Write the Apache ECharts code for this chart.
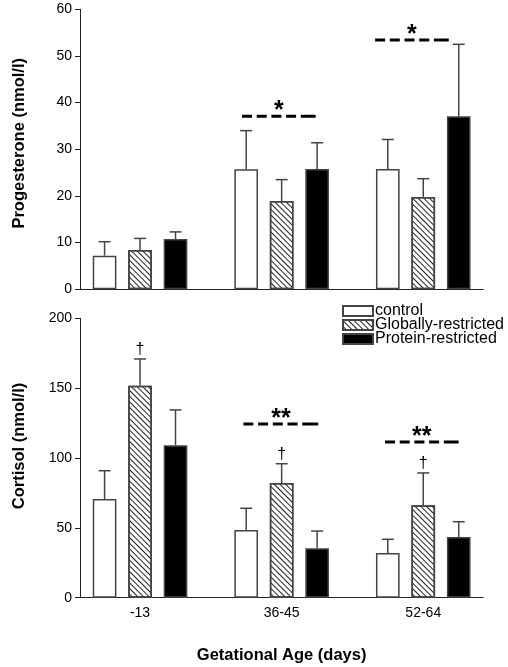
<!DOCTYPE html>
<html><head><meta charset="utf-8">
<script src="https://cdn.jsdelivr.net/npm/echarts@6.0.0/dist/echarts.min.js"></script>
<style>html,body{margin:0;padding:0;background:#fff}#c{width:508px;height:667px}</style>
</head><body><div id="c"></div>
<script>
// ---- data ----
const categories = ['-13', '36-45', '52-64'];
const seriesNames = ['control', 'Globally-restricted', 'Protein-restricted'];
const progTicks = [0, 10, 20, 30, 40, 50, 60];
const cortTicks = [0, 50, 100, 150, 200];

// Progesterone (nmol/l): mean and SEM
const progControl = [7.2, 25.7, 25.8];
const progGlobal = [8.4, 18.9, 19.8];
const progProtein = [10.8, 25.8, 37.1];
const progControlSem = [3.0, 8.3, 6.3];
const progGlobalSem = [2.5, 4.6, 3.9];
const progProteinSem = [1.5, 5.6, 15.4];

// Cortisol (nmol/l): mean and SEM
const cortControl = [70.6, 48.5, 32.0];
const cortGlobal = [151.8, 82.1, 66.1];
const cortProtein = [109.1, 35.4, 43.4];
const cortControlSem = [20.3, 15.5, 9.8];
const cortGlobalSem = [19.1, 13.8, 23.2];
const cortProteinSem = [25.3, 12.3, 11.0];

// significance annotations: [from x, to x, level]
const progSig = [[0.72, 1.24, 37.1], [1.66, 2.18, 53.4]];
const progSigLabel = ['*', '*'];
const cortSig = [[0.73, 1.26, 124.3], [1.73, 2.25, 111.5]];
const cortSigLabel = ['**', '**'];
const cortGlobalDagger = ['\u2020', '\u2020', '\u2020'];

// ---- styling / layout ----
const FONT = 'Liberation Sans, Arial, sans-serif';
const BAR_W = 0.167;          // fraction of group spacing
const OFFSET = BAR_W * 1.5;   // bar width + 50% gap
const EDGE = '#444';
const hatch = { symbol: 'rect', symbolSize: 1, color: '#222', dashArrayX: [1, 0], dashArrayY: [1, 2.6], rotation: Math.PI / 4 };
const styles = [
  { color: '#fff', borderColor: EDGE, borderWidth: 1.5 },
  { color: '#fff', borderColor: EDGE, borderWidth: 1.5, decal: hatch },
  { color: '#000', borderColor: EDGE, borderWidth: 1.5 }
];

function errRender(offset, marks) {
  return function (params, api) {
    const x = api.value(0) + offset;
    const base = api.coord([x, api.value(1)]);
    const hi = api.coord([x, api.value(1) + api.value(2)]);
    const ls = { stroke: EDGE, lineWidth: 1.5 };
    const ch = [
      { type: 'line', shape: { x1: base[0], y1: base[1], x2: hi[0], y2: hi[1] }, style: ls },
      { type: 'line', shape: { x1: hi[0] - 6, y1: hi[1], x2: hi[0] + 6, y2: hi[1] }, style: ls }
    ];
    if (marks && marks[params.dataIndex]) {
      ch.push({ type: 'text', x: hi[0], y: hi[1] - 9,
        style: { text: marks[params.dataIndex], fill: '#000', font: '16px ' + FONT, align: 'center', verticalAlign: 'middle' } });
    }
    return { type: 'group', children: ch };
  };
}
function sigRender(labels) {
  return function (params, api) {
    const a = api.coord([api.value(0), api.value(2)]);
    const b = api.coord([api.value(1), api.value(2)]);
    return { type: 'group', children: [
      { type: 'line', shape: { x1: a[0], y1: a[1], x2: b[0], y2: b[1] },
        style: { stroke: '#000', lineWidth: 3, lineDash: [10, 4.7, 10, 4.7, 10, 4.7, 10, 4.7, 16, 10] } },
      { type: 'text', x: (a[0] + b[0]) / 2, y: a[1] - 5,
        style: { text: labels[params.dataIndex], fill: '#000', font: 'bold 25px ' + FONT, align: 'center', verticalAlign: 'middle' } }
    ] };
  };
}

const panels = [
  { means: [progControl, progGlobal, progProtein], sems: [progControlSem, progGlobalSem, progProteinSem], sig: progSig, sigLabel: progSigLabel, marks: [null, null, null] },
  { means: [cortControl, cortGlobal, cortProtein], sems: [cortControlSem, cortGlobalSem, cortProteinSem], sig: cortSig, sigLabel: cortSigLabel, marks: [null, cortGlobalDagger, null] }
];

const series = [];
panels.forEach((p, g) => {
  p.means.forEach((vals, k) => {
    series.push({ type: 'bar', name: seriesNames[k], xAxisIndex: g, yAxisIndex: g,
      barWidth: (BAR_W * 100) + '%', barGap: '50%', itemStyle: styles[k],
      emphasis: { disabled: true }, silent: true,
      data: vals.map((v, i) => [i, v]) });
  });
  p.means.forEach((vals, k) => {
    series.push({ type: 'custom', xAxisIndex: g, yAxisIndex: g, silent: true, z: 3,
      renderItem: errRender((k - 1) * OFFSET, p.marks[k]),
      encode: { x: 0, y: 1 },
      data: vals.map((v, i) => [i, v, p.sems[k][i]]) });
  });
  series.push({ type: 'custom', xAxisIndex: g, yAxisIndex: g, silent: true, z: 4,
    renderItem: sigRender(p.sigLabel), encode: { x: 0, y: 2 }, data: p.sig });
});

const axisLineX = { show: true, onZero: false, lineStyle: { color: '#222', width: 1 } };
const axisLineY = { show: true, onZero: false, lineStyle: { color: '#222', width: 1 } };
const xBase = { type: 'value', min: -0.424, max: 2.424, axisLine: axisLineX, axisTick: { show: false }, splitLine: { show: false } };
const yBase = { type: 'value', axisLine: axisLineY, axisTick: { show: true, length: 5, lineStyle: { color: '#222' } },
  splitLine: { show: false }, axisLabel: { fontSize: 14, fontFamily: FONT, color: '#000', margin: 8 },
  nameLocation: 'middle' };
const nameStyle = { fontSize: 16.5, fontWeight: 'bold', fontFamily: FONT, color: '#000' };

const option = {
  animation: false,
  backgroundColor: '#fff',
  grid: [
    { left: 80, right: 24.7, top: 9.3, height: 280, outerBoundsMode: 'none' },
    { left: 80, right: 24.7, top: 318.3, height: 279.4, outerBoundsMode: 'none' }
  ],
  xAxis: [
    Object.assign({}, xBase, { gridIndex: 0, axisLabel: { show: false } }),
    Object.assign({}, xBase, { gridIndex: 1,
      axisLabel: { customValues: [0, 1, 2], formatter: v => categories[Math.round(v)], fontSize: 14, fontFamily: FONT, color: '#000', margin: 8 },
      name: 'Getational Age (days)', nameLocation: 'middle', nameGap: 49,
      nameTextStyle: nameStyle })
  ],
  yAxis: [
    Object.assign({}, yBase, { gridIndex: 0, min: progTicks[0], max: progTicks[progTicks.length - 1], interval: progTicks[1] - progTicks[0],
      name: 'Progesterone (nmol/l)', nameGap: 52, nameTextStyle: Object.assign({ padding: [0, 0, 0, 12] }, nameStyle) }),
    Object.assign({}, yBase, { gridIndex: 1, min: cortTicks[0], max: cortTicks[cortTicks.length - 1], interval: cortTicks[1] - cortTicks[0],
      name: 'Cortisol (nmol/l)', nameGap: 52, nameTextStyle: Object.assign({ padding: [0, 0, 0, 24] }, nameStyle) })
  ],
  legend: {
    orient: 'vertical', left: 342, top: 303, padding: 0, itemWidth: 30, itemHeight: 10, itemGap: -2, icon: 'rect',
    textStyle: { fontSize: 16, fontFamily: FONT, color: '#000', padding: [0, 0, 0, -3] },
    selectedMode: false,
    data: seriesNames
  },
  series: series
};
const chart = echarts.init(document.getElementById('c'), null, { renderer: 'canvas' });
chart.setOption(option);
</script></body></html>
